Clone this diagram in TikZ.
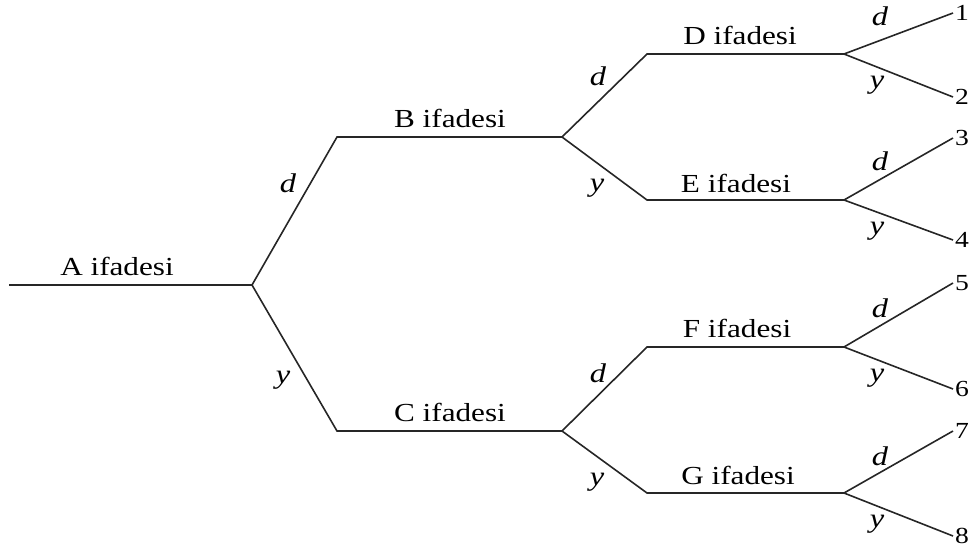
\documentclass[tikz,border=0pt]{standalone}
\usepackage{fontspec}
\setmainfont[FakeStretch=1.2]{Liberation Serif}
\begin{document}
\begin{tikzpicture}[x=1pt,y=-1pt,
  branch/.style={line width=1.6pt,draw=black!85},
  stmt/.style={inner sep=0pt,font=\fontsize{26}{30}\selectfont},
  ans/.style={inner sep=0pt,font=\fontsize{27}{30}\selectfont\itshape},
  leaf/.style={inner sep=0pt,anchor=west,font=\fontsize{23}{27}\selectfont}]
\useasboundingbox (0,0) rectangle (969,549);
% junction and end points of the tree
\coordinate (A0) at (9,285);   \coordinate (A1) at (252,285);
\coordinate (B0) at (337,137); \coordinate (B1) at (562,137);
\coordinate (C0) at (337,431); \coordinate (C1) at (562,431);
\coordinate (D0) at (647,54);  \coordinate (D1) at (844,54);
\coordinate (E0) at (647,200); \coordinate (E1) at (844,200);
\coordinate (F0) at (647,347); \coordinate (F1) at (844,347);
\coordinate (G0) at (647,493); \coordinate (G1) at (844,493);
\coordinate (L1) at (953,13);  \coordinate (L2) at (953,97);
\coordinate (L3) at (953,138); \coordinate (L4) at (953,240);
\coordinate (L5) at (953,283); \coordinate (L6) at (953,389);
\coordinate (L7) at (953,431); \coordinate (L8) at (953,536);
% statement lines and branches
\draw[branch] (A0) -- (A1);
\draw[branch] (A1) -- (B0) -- (B1);
\draw[branch] (A1) -- (C0) -- (C1);
\draw[branch] (B1) -- (D0) -- (D1);
\draw[branch] (B1) -- (E0) -- (E1);
\draw[branch] (C1) -- (F0) -- (F1);
\draw[branch] (C1) -- (G0) -- (G1);
\draw[branch] (D1) -- (L1); \draw[branch] (D1) -- (L2);
\draw[branch] (E1) -- (L3); \draw[branch] (E1) -- (L4);
\draw[branch] (F1) -- (L5); \draw[branch] (F1) -- (L6);
\draw[branch] (G1) -- (L7); \draw[branch] (G1) -- (L8);
% statement labels
\node[stmt] (tA) at (117,266) {A ifadesi};
\node[stmt] (tB) at (450,118) {B ifadesi};
\node[stmt] (tC) at (450,412) {C ifadesi};
\node[stmt] (tD) at (740,35)  {D ifadesi};
\node[stmt] (tE) at (736,183) {E ifadesi};
\node[stmt] (tF) at (737,328) {F ifadesi};
\node[stmt] (tG) at (738,475) {G ifadesi};
% answer labels
\node[ans] (dA) at (288,183) {d};
\node[ans] (yA) at (283,380) {y};
\node[ans] (dB) at (598,76)  {d};
\node[ans] (yB) at (597,188) {y};
\node[ans] (dC) at (598,373) {d};
\node[ans] (yC) at (597,482) {y};
\node[ans] (dD) at (880,16)  {d};
\node[ans] (yD) at (877,85)  {y};
\node[ans] (dE) at (880,161) {d};
\node[ans] (yE) at (877,231) {y};
\node[ans] (dF) at (880,308) {d};
\node[ans] (yF) at (877,378) {y};
\node[ans] (dG) at (880,456) {d};
\node[ans] (yG) at (877,524) {y};
% outcome numbers
\node[leaf] (n1) at ([xshift=2pt]L1) {1};
\node[leaf] (n2) at ([xshift=2pt]L2) {2};
\node[leaf] (n3) at ([xshift=2pt]L3) {3};
\node[leaf] (n4) at ([xshift=2pt]L4) {4};
\node[leaf] (n5) at ([xshift=2pt]L5) {5};
\node[leaf] (n6) at ([xshift=2pt]L6) {6};
\node[leaf] (n7) at ([xshift=2pt]L7) {7};
\node[leaf] (n8) at ([xshift=2pt]L8) {8};
\end{tikzpicture}
\end{document}
